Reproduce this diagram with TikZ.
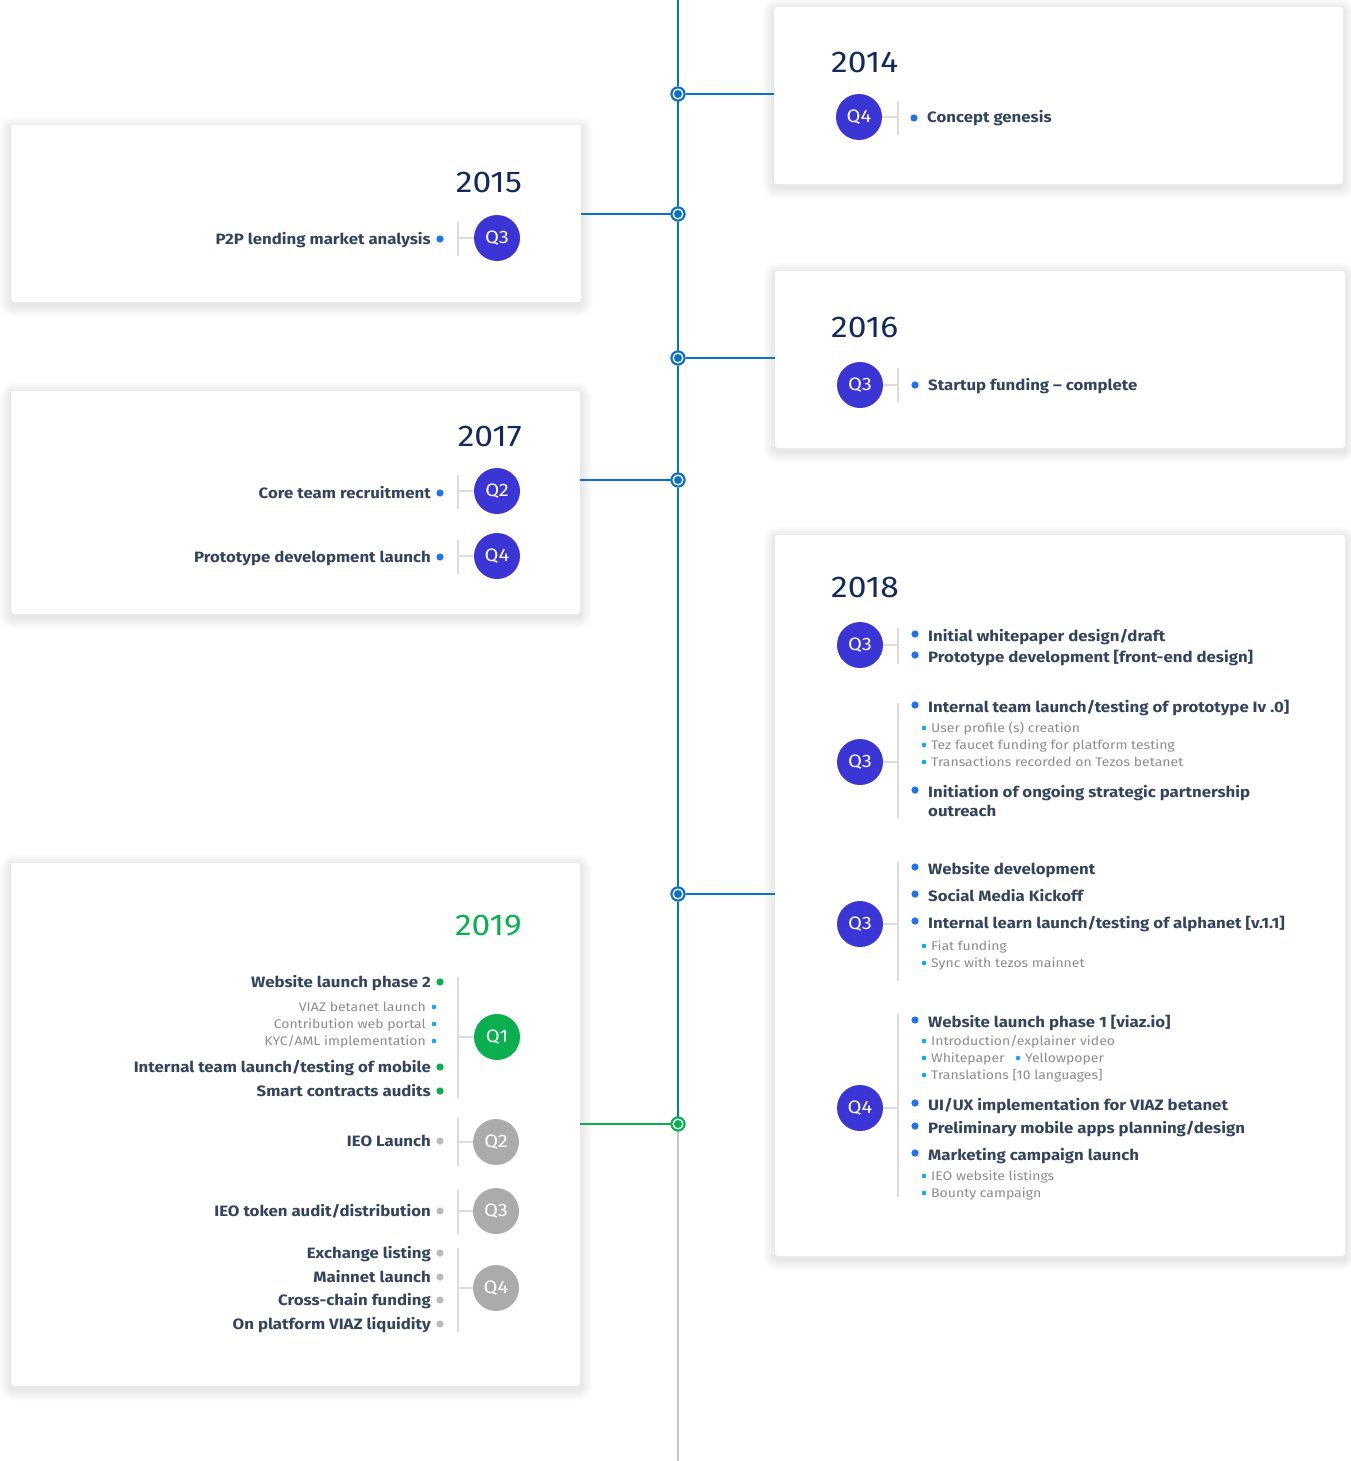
\documentclass[tikz,border=0pt]{standalone}
\usepackage{fontspec}
\setmainfont[FakeStretch=1.12]{Fira Sans}
\definecolor{tl}{HTML}{0A72C4}
\definecolor{navy}{HTML}{122B5C}
\definecolor{qpur}{HTML}{3B35D6}
\definecolor{qgreen}{HTML}{0AB04F}
\definecolor{qgray}{HTML}{ABABAB}
\definecolor{txt}{HTML}{33445C}
\definecolor{subtxt}{HTML}{8C8C8C}
\definecolor{bblue}{HTML}{1E74EA}
\definecolor{sblue}{HTML}{14A6F0}
\definecolor{tickc}{HTML}{DCDCDC}
\definecolor{gline}{HTML}{C8C8C8}
\tikzset{
  card/.style={fill=white, rounded corners=3pt, inner sep=0pt, outer sep=0pt, anchor=north west},
  tdot/.style={circle, draw=#1, line width=2pt, fill=white, minimum size=13pt, inner sep=0pt,
    path picture={\fill[#1] (path picture bounding box.center) circle (4pt);}},
  tdot/.default=tl,
  qc/.style={circle, fill=#1, text=white, minimum size=46pt, inner sep=0pt, font=\fontsize{18}{18}\selectfont},
  qc/.default=qpur,
  yr/.style={text=navy, inner sep=0pt, font=\fontsize{30}{30}\selectfont},
  mtxt/.style={text=txt, inner sep=0pt, font=\fontsize{15}{18}\selectfont\bfseries},
  stxt/.style={text=subtxt, inner sep=0pt, font=\fontsize{12.5}{14}\selectfont},
  tickl/.style={draw=tickc, line width=1.2pt},
  tlline/.style={draw=tl, line width=2pt},
  shadowlayer/.style={fill=black, opacity=0.008},
}
% card with soft shadow: name, x, y, w, h
\newcommand\CardAt[5]{%
  \foreach \k in {1,...,12}{%
    \fill[shadowlayer, rounded corners={3pt+\k pt}] (#2-\k,#3-\k+3) rectangle (#2+#4+\k,#3+#5+\k+3);}
  \node[card, minimum width=#4pt, minimum height=#5pt] (#1) at (#2,#3) {};}
% right side items
\newcommand\Ritem[3]{\fill[bblue] (915,#2-2) circle (3.6pt);
  \node[mtxt, anchor=base west] (#1) at (928,#2+5) {#3};}
\newcommand\Rsub[4][924]{\fill[sblue] (#1,#3) circle (2.3pt);
  \node[stxt, anchor=base west] (#2) at (#1+7,#3+4.5) {#4};}
% left side items
\newcommand\Litem[4][bblue]{\fill[#1] (440,#3) circle (3.6pt);
  \node[mtxt, anchor=base east] (#2) at (431,#3+5) {#4};}
\newcommand\Lsub[3]{\fill[sblue] (434,#2) circle (2.3pt);
  \node[stxt, anchor=base east] (#1) at (426,#2+4.5) {#3};}
\begin{document}
\begin{tikzpicture}[x=1pt,y=-1pt]
\useasboundingbox (0,0) rectangle (1351,1461);
\fill[white] (0,0) rectangle (1351,1461);

% cards
\CardAt{c2014}{774}{7}{569}{177}
\CardAt{c2015}{11}{125}{570}{177}
\CardAt{c2016}{775}{271}{570}{177}
\CardAt{c2017}{11}{391}{569}{223}
\CardAt{c2018}{775}{535}{570}{721}
\CardAt{c2019}{11}{863}{569}{523}

% timeline dots
\node[tdot] (d2014) at (678,94) {};
\node[tdot] (d2015) at (678,214) {};
\node[tdot] (d2016) at (678,358) {};
\node[tdot] (d2017) at (678,480) {};
\node[tdot] (d2018) at (678,894) {};
\node[tdot=qgreen] (d2019) at (678,1124) {};
\coordinate (ttop) at (678,0);
\coordinate (tbot) at (678,1461);

\draw[tlline] (ttop) -- (d2014) -- (d2015) -- (d2016) -- (d2017) -- (d2018) -- (d2019);
\draw[draw=gline, line width=2pt] (d2019) -- (tbot);
\draw[tlline] (d2014) -- (c2014.west |- d2014);
\draw[tlline] (d2015) -- (c2015.east |- d2015);
\draw[tlline] (d2016) -- (c2016.west |- d2016);
\draw[tlline] (d2017) -- (c2017.east |- d2017);
\draw[tlline] (d2018) -- (c2018.west |- d2018);
\draw[draw=qgreen, line width=2pt] (d2019) -- (c2019.east |- d2019);
% redraw dots above lines
\node[tdot] at (d2014) {};
\node[tdot] at (d2015) {};
\node[tdot] at (d2016) {};
\node[tdot] at (d2017) {};
\node[tdot] at (d2018) {};
\node[tdot=qgreen] at (d2019) {};

% ---------- 2014 ----------
\node[yr, anchor=base west] (y2014) at (831,73) {2014};
\node[qc] (q14) at (859,117) {Q4};
\draw[tickl] (q14.east) -- (898,117);
\draw[tickl] (898,101) -- (898,135);
\fill[bblue] (914,118) circle (3.6pt);
\node[mtxt, anchor=base west] (i14a) at (927,123) {Concept genesis};

% ---------- 2015 ----------
\node[yr, anchor=base east] (y2015) at (522,192) {2015};
\node[qc] (q15) at (497,238) {Q3};
\draw[tickl] (q15.west) -- (458,238);
\draw[tickl] (458,222) -- (458,256);
\Litem{i15a}{239}{P2P lending market analysis}

% ---------- 2016 ----------
\node[yr, anchor=base west] (y2016) at (831,337) {2016};
\node[qc] (q16) at (860,385) {Q3};
\draw[tickl] (q16.east) -- (898,385);
\draw[tickl] (898,368) -- (898,402);
\fill[bblue] (915,385) circle (3.6pt);
\node[mtxt, anchor=base west] (i16a) at (928,390) {Startup funding – complete};

% ---------- 2017 ----------
\node[yr, anchor=base east] (y2017) at (522,446) {2017};
\node[qc] (q17a) at (497,491) {Q2};
\draw[tickl] (q17a.west) -- (458,491);
\draw[tickl] (458,475) -- (458,509);
\Litem{i17a}{493}{Core team recruitment}
\node[qc] (q17b) at (497,556) {Q4};
\draw[tickl] (q17b.west) -- (458,556);
\draw[tickl] (458,540) -- (458,574);
\Litem{i17b}{557}{Prototype development launch}

% ---------- 2018 ----------
\node[yr, anchor=base west] (y2018) at (831,597) {2018};
\node[qc] (q18a) at (860,645) {Q3};
\draw[tickl] (q18a.east) -- (898,645);
\draw[tickl] (898,628) -- (898,664);
\Ritem{i18a}{636}{Initial whitepaper design/draft}
\Ritem{i18b}{657}{Prototype development [front-end design]}

\node[qc] (q18b) at (860,762) {Q3};
\draw[tickl] (q18b.east) -- (898,762);
\draw[tickl] (898,703) -- (898,818);
\Ritem{i18c}{707}{Internal team launch/testing of prototype Iv .0]}
\Rsub{s18a}{728}{User profile (s) creation}
\Rsub{s18b}{745}{Tez faucet funding for platform testing}
\Rsub{s18c}{762}{Transactions recorded on Tezos betanet}
\Ritem{i18d}{792}{Initiation of ongoing strategic partnership}
\node[mtxt, anchor=base west] (i18dd) at (928,816) {outreach};

\node[qc] (q18c) at (860,924) {Q3};
\draw[tickl] (q18c.east) -- (898,924);
\draw[tickl] (898,862) -- (898,981);
\Ritem{i18e}{869}{Website development}
\Ritem{i18f}{896}{Social Media Kickoff}
\Ritem{i18g}{923}{Internal learn launch/testing of alphanet [v.1.1]}
\Rsub{s18d}{946}{Fiat funding}
\Rsub{s18e}{963}{Sync with tezos mainnet}

\node[qc] (q18d) at (860,1108) {Q4};
\draw[tickl] (q18d.east) -- (898,1108);
\draw[tickl] (898,1014) -- (898,1197);
\Ritem{i18h}{1022}{Website launch phase 1 [viaz.io]}
\Rsub{s18f}{1041}{Introduction/explainer video}
\Rsub{s18g}{1058}{Whitepaper}
\Rsub[1018]{s18h}{1058}{Yellowpoper}
\Rsub{s18i}{1075}{Translations [10 languages]}
\Ritem{i18i}{1105}{UI/UX implementation for VIAZ betanet}
\Ritem{i18j}{1128}{Preliminary mobile apps planning/design}
\Ritem{i18k}{1155}{Marketing campaign launch}
\Rsub{s18j}{1176}{IEO website listings}
\Rsub{s18k}{1193}{Bounty campaign}

% ---------- 2019 ----------
\node[yr, anchor=base east, text=qgreen] (y2019) at (522,935) {2019};
\node[qc=qgreen] (q19a) at (497,1037) {Q1};
\draw[tickl] (q19a.west) -- (458,1037);
\draw[tickl] (458,977) -- (458,1098);
\Litem[qgreen]{i19a}{982}{Website launch phase 2}
\Lsub{s19a}{1007}{VIAZ betanet launch}
\Lsub{s19b}{1024}{Contribution web portal}
\Lsub{s19c}{1041}{KYC/AML implementation}
\Litem[qgreen]{i19b}{1067}{Internal team launch/testing of mobile}
\Litem[qgreen]{i19c}{1091}{Smart contracts audits}

\node[qc=qgray] (q19b) at (496,1142) {Q2};
\draw[tickl] (q19b.west) -- (458,1142);
\draw[tickl] (458,1118) -- (458,1166);
\Litem[qgray!80]{i19d}{1141}{IEO Launch}

\node[qc=qgray] (q19c) at (496,1211) {Q3};
\draw[tickl] (q19c.west) -- (458,1211);
\draw[tickl] (458,1190) -- (458,1234);
\Litem[qgray!80]{i19e}{1211}{IEO token audit/distribution}

\node[qc=qgray] (q19d) at (496,1288) {Q4};
\draw[tickl] (q19d.west) -- (458,1288);
\draw[tickl] (458,1248) -- (458,1332);
\Litem[qgray!80]{i19f}{1253}{Exchange listing}
\Litem[qgray!80]{i19g}{1277}{Mainnet launch}
\Litem[qgray!80]{i19h}{1300}{Cross-chain funding}
\Litem[qgray!80]{i19i}{1324}{On platform VIAZ liquidity}
\end{tikzpicture}
\end{document}
